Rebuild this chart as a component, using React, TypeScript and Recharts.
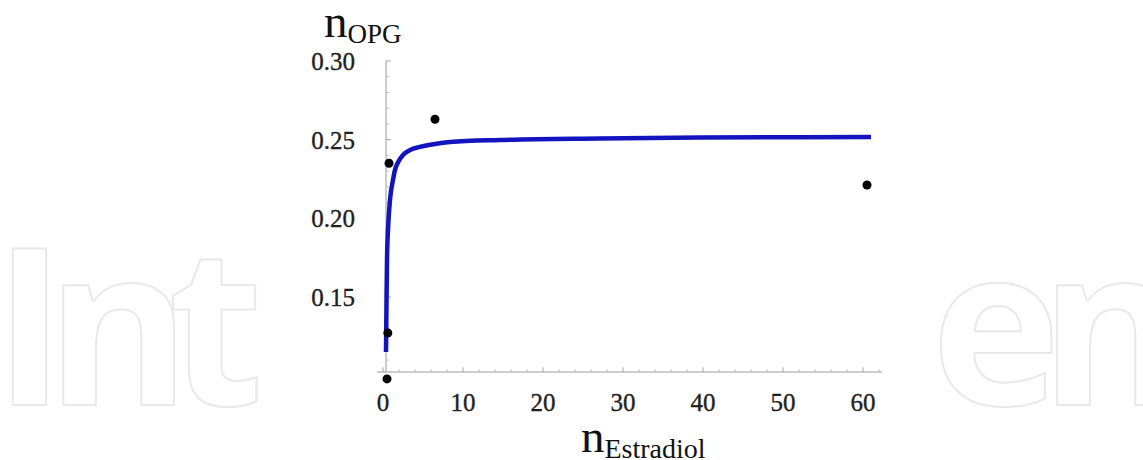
import React from 'react';
import { ComposedChart, Line, Scatter, XAxis, YAxis, ReferenceLine } from 'recharts';

// Fitted curve
const curveX = [0.375, 0.44, 0.5, 0.625, 0.875, 1.25, 1.5, 1.9, 2.5, 3.4, 4.6, 6.5, 8.4, 14.6, 27, 39.6, 61];
const curveY = [0.1151, 0.148, 0.1736, 0.1926, 0.2117, 0.2244, 0.2308, 0.2358, 0.2403, 0.2435, 0.2454, 0.2473, 0.2485, 0.2498, 0.2508, 0.2514, 0.2517];

// Measured points
const pointX = [0.5, 0.6, 0.75, 6.5, 60.5];
const pointY = [0.098, 0.1272, 0.235, 0.263, 0.2212];

// Ticks
const xTicks = [0, 10, 20, 30, 40, 50, 60];
const xMinorTicks = [2, 4, 6, 8, 12, 14, 16, 18, 22, 24, 26, 28, 32, 34, 36, 38, 42, 44, 46, 48, 52, 54, 56, 58, 62];
const yTicks = [0.15, 0.2, 0.25, 0.3];
const yMinorTicks = [0.11, 0.12, 0.13, 0.14, 0.16, 0.17, 0.18, 0.19, 0.21, 0.22, 0.23, 0.24, 0.26, 0.27, 0.28, 0.29];

const xOrigin = 0.375;
const yOrigin = 0.1024;

const curveData = curveX.map((x, i) => ({ x, y: curveY[i] }));
const pointData = pointX.map((x, i) => ({ x, y: pointY[i] }));

const serif = '"Liberation Serif", "DejaVu Serif", serif';
const wmFont = '"Open Sans", sans-serif';

const Dot = (props: any) => {
  const { cx, cy } = props;
  if (cx == null || cy == null) return null;
  return <circle cx={cx} cy={cy} r={4.5} fill="#000" />;
};

const XTick = (props: any) => {
  const { x, y, payload } = props;
  return (
    <text x={x} y={y} dy="0.71em" textAnchor="middle" fontFamily={serif} fontSize={25} fill="#1e1e1e" stroke="#1e1e1e" strokeWidth={0.35}>
      {payload.value}
    </text>
  );
};

const YTick = (props: any) => {
  const { x, y, payload } = props;
  return (
    <text x={x} y={y} dy="0.355em" textAnchor="end" fontFamily={serif} fontSize={25} fill="#1e1e1e" stroke="#1e1e1e" strokeWidth={0.35}>
      {Number(payload.value).toFixed(2)}
    </text>
  );
};

export default function App() {
  return (
    <div style={{ position: 'absolute', left: 0, top: 0, width: 1143, height: 460, background: '#fff', overflow: 'hidden' }}>
      <svg width={1143} height={460} style={{ position: 'absolute', left: 0, top: 0 }}>
        <text x="-7 46 168" y={405} fontFamily={wmFont} fontWeight={700} fontSize={220} fill="none" stroke="#e9e9e9" strokeWidth={2}>
          Int
        </text>
        <text x="931 1040" y={405} fontFamily={wmFont} fontWeight={700} fontSize={220} fill="none" stroke="#e9e9e9" strokeWidth={2}>
          en
        </text>
      </svg>
      <div style={{ position: 'absolute', left: 0, top: 0 }}>
        <ComposedChart width={1143} height={460} margin={{ top: 61, right: 260.8, bottom: 38.5, left: 317 }}>
          <XAxis
            type="number"
            dataKey="x"
            domain={[-0.75, 62.4]}
            ticks={xTicks}
            interval={0}
            axisLine={false}
            tickLine={false}
            tickSize={0}
            tickMargin={2}
            height={30}
            tick={<XTick />}
          />
          <YAxis
            type="number"
            dataKey="y"
            domain={[0.09, 0.3]}
            ticks={yTicks}
            interval={0}
            axisLine={false}
            tickLine={false}
            tickSize={0}
            tickMargin={22}
            width={60}
            tick={<YTick />}
          />
          <ReferenceLine y={yOrigin} stroke="#9a9a9a" strokeWidth={1} />
          <ReferenceLine segment={[{ x: xOrigin, y: yOrigin }, { x: xOrigin, y: 0.3 }]} stroke="#9a9a9a" strokeWidth={1} />
          {xTicks.map((t) => (
            <ReferenceLine key={'xt' + t} segment={[{ x: t, y: yOrigin }, { x: t, y: yOrigin + 0.003 }]} stroke="#a0a0a0" strokeWidth={1} />
          ))}
          {xMinorTicks.map((t) => (
            <ReferenceLine key={'xm' + t} segment={[{ x: t, y: yOrigin }, { x: t, y: yOrigin + 0.0017 }]} stroke="#b8b8b8" strokeWidth={1} />
          ))}
          {yTicks.map((t) => (
            <ReferenceLine key={'yt' + t} segment={[{ x: xOrigin, y: t }, { x: xOrigin + 0.6, y: t }]} stroke="#a0a0a0" strokeWidth={1} />
          ))}
          {yMinorTicks.map((t) => (
            <ReferenceLine key={'ym' + t} segment={[{ x: xOrigin, y: t }, { x: xOrigin + 0.35, y: t }]} stroke="#b8b8b8" strokeWidth={1} />
          ))}
          <Line
            data={curveData}
            dataKey="y"
            type="monotone"
            stroke="#1414be"
            strokeWidth={4.5}
            dot={false}
            activeDot={false}
            isAnimationActive={false}
          />
          <Scatter data={pointData} dataKey="y" shape={<Dot />} isAnimationActive={false} />
        </ComposedChart>
      </div>
      <svg width={1143} height={460} style={{ position: 'absolute', left: 0, top: 0, pointerEvents: 'none' }}>
        <text x={324} y={37} fontFamily={serif} fontSize={47} fill="#111">
          n<tspan fontSize={27} dy={6}>OPG</tspan>
        </text>
        <text x={581} y={452} fontFamily={serif} fontSize={47} fill="#111">
          n<tspan fontSize={28} dy={6}>Estradiol</tspan>
        </text>
      </svg>
    </div>
  );
}
